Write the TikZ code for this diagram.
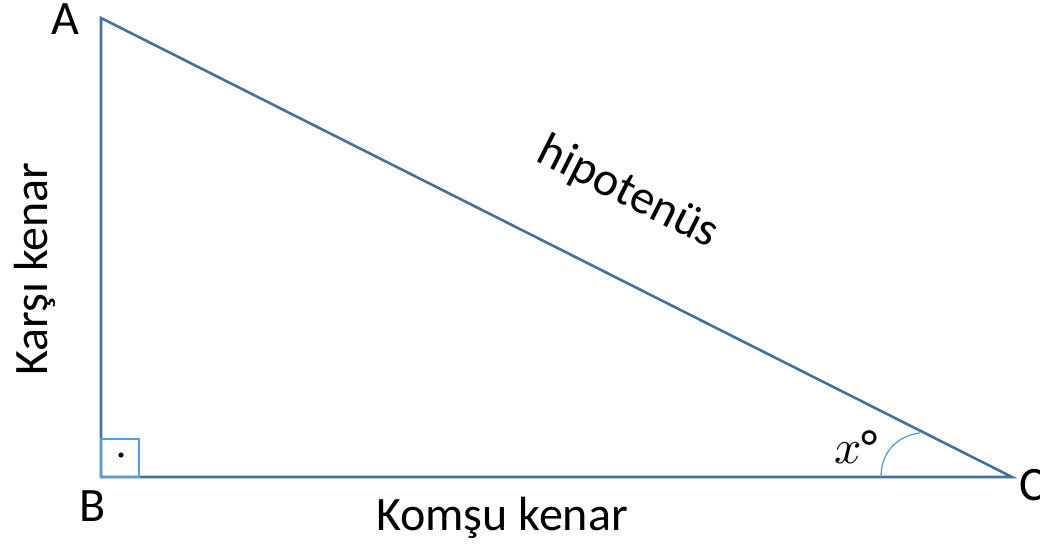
\documentclass[tikz,border=0pt]{standalone}
\usepackage{unicode-math}
\setmainfont{Carlito}
\usetikzlibrary{positioning}

\definecolor{side}{RGB}{65,113,156}
\definecolor{mark}{RGB}{91,155,213}

\begin{document}
\begin{tikzpicture}[
  x=1pt,y=-1pt,
  font=\fontsize{48}{56}\selectfont,
  side/.style={draw=side,line width=2.6pt,line join=miter},
  markline/.style={draw=mark,line width=1.3pt},
  lbl/.style={inner sep=0pt}
]
\useasboundingbox (0,0) rectangle (1040,545);
\coordinate (A) at (101,18);
\coordinate (B) at (101,477);
\coordinate (C) at (1012,477);
% triangle
\draw[side] (A) -- (B) -- (C) -- cycle;
% right angle at B
\draw[markline] (B) rectangle ++(38,-38);
\fill (121,455) coordinate (dot) circle (2.6pt);
% angle at C
\coordinate (arcstart) at (881,477);
\coordinate (arcend) at (920,433);
\draw[markline] (arcstart) .. controls (881,452) and (897,436) .. (arcend);
% labels
\node[lbl] (la) at (65,19) {A};
\node[lbl] (lb) at (93,506) {B};
\node[lbl,anchor=west] (lc) at (1019,485) {C};
\node[lbl,rotate=90] (opp) at (35,269) {Karşı kenar};
\node[lbl] (adj) at (502,518) {Komşu kenar};
\node[lbl,rotate=-26.74] (hyp) at (628,193) {hipotenüs};
\node[lbl] (ang) at (856,447) {$x$°};
\end{tikzpicture}
\end{document}
